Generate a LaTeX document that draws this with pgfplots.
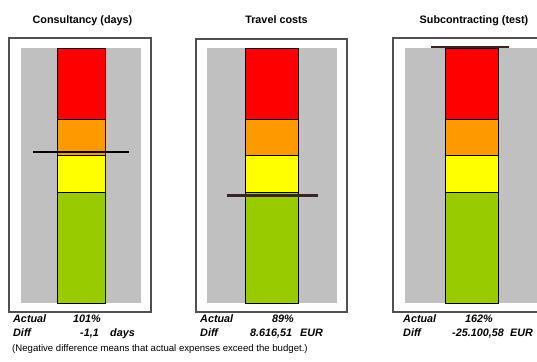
\documentclass[border=0pt]{standalone}
\usepackage{fontspec}
\setmainfont{Liberation Sans}
\usepackage{pgfplots}
\pgfplotsset{compat=1.18}
\definecolor{gbg}{RGB}{192,192,192}
\definecolor{cred}{RGB}{255,0,0}
\definecolor{corange}{RGB}{255,153,0}
\definecolor{cyellow}{RGB}{255,255,0}
\definecolor{cgreen}{RGB}{153,204,0}
\definecolor{cframe}{RGB}{80,80,80}
\definecolor{cmark}{RGB}{60,36,36}
\pgfplotsset{gauge/.style={
  scale only axis, width=#1, height=255pt,
  ymin=59.6, ymax=129.5, clip=false,
  axis line style={draw=none}, xtick=\empty, ytick=\empty,
  axis background/.style={fill=gbg},
  anchor=south west}}
\newcommand{\ttl}{\fontsize{10.8}{12}\selectfont\bfseries}
\newcommand{\bi}{\fontsize{10.8}{12}\selectfont\bfseries\itshape}
\begin{document}
\begin{tikzpicture}[x=1pt,y=1pt]
\useasboundingbox (0,0) rectangle (537,361);
\clip (0,0) rectangle (537,361);
% frames
\draw[cframe, line width=1.2pt] (9,49) rectangle (151,323);
\draw[cframe, line width=1.2pt] (196,49) rectangle (347,322);
\draw[cframe, line width=1.2pt] (393,49) rectangle (548,323);
% panel 1
\begin{axis}[gauge=120pt, at={(21pt,58pt)}, xmin=-60, xmax=60]
\addplot[fill=cgreen, draw=black, line width=0.6pt] coordinates {(-24,59.6) (24,59.6) (24,90) (-24,90)} -- cycle;
\addplot[fill=cyellow, draw=black, line width=0.6pt] coordinates {(-24,90) (24,90) (24,100) (-24,100)} -- cycle;
\addplot[fill=corange, draw=black, line width=0.6pt] coordinates {(-24,100) (24,100) (24,110) (-24,110)} -- cycle;
\addplot[fill=cred, draw=black, line width=0.6pt] coordinates {(-24,110) (24,110) (24,129.5) (-24,129.5)} -- cycle;
\addplot[black, line width=2pt] coordinates {(-48,101) (48,101)};
\end{axis}
% panel 2
\begin{axis}[gauge=130pt, at={(207pt,58pt)}, xmin=-65, xmax=65]
\addplot[fill=cgreen, draw=black, line width=0.6pt] coordinates {(-26.5,59.6) (26.5,59.6) (26.5,90) (-26.5,90)} -- cycle;
\addplot[fill=cyellow, draw=black, line width=0.6pt] coordinates {(-26.5,90) (26.5,90) (26.5,100) (-26.5,100)} -- cycle;
\addplot[fill=corange, draw=black, line width=0.6pt] coordinates {(-26.5,100) (26.5,100) (26.5,110) (-26.5,110)} -- cycle;
\addplot[fill=cred, draw=black, line width=0.6pt] coordinates {(-26.5,110) (26.5,110) (26.5,129.5) (-26.5,129.5)} -- cycle;
\addplot[cmark, line width=2.6pt] coordinates {(-45.5,89) (45.5,89)};
\end{axis}
% panel 3
\begin{axis}[gauge=133pt, at={(405pt,58pt)}, xmin=-66.5, xmax=66.5]
\addplot[fill=cgreen, draw=black, line width=0.6pt] coordinates {(-26.5,59.6) (26.5,59.6) (26.5,90) (-26.5,90)} -- cycle;
\addplot[fill=cyellow, draw=black, line width=0.6pt] coordinates {(-26.5,90) (26.5,90) (26.5,100) (-26.5,100)} -- cycle;
\addplot[fill=corange, draw=black, line width=0.6pt] coordinates {(-26.5,100) (26.5,100) (26.5,110) (-26.5,110)} -- cycle;
\addplot[fill=cred, draw=black, line width=0.6pt] coordinates {(-26.5,110) (26.5,110) (26.5,129.5) (-26.5,129.5)} -- cycle;
\addplot[cmark, line width=2.4pt] coordinates {(-40.5,129.8) (37.5,129.8)};
\end{axis}
% titles
\node[inner sep=0, anchor=base] at (82.5,337) {\ttl Consultancy (days)};
\node[inner sep=0, anchor=base] at (276.5,337) {\ttl Travel costs};
\node[inner sep=0, anchor=base] at (474,337) {\ttl Subcontracting (test)};
% bottom texts
\begin{scope}[every node/.style={inner sep=0, anchor=base west}]
\node at (13,39) {\bi Actual};
\node at (73,39) {\bi 101\%};
\node at (13,25) {\bi Diff};
\node at (80,25) {\bi -1,1};
\node at (110,25) {\bi days};
\node at (200,39) {\bi Actual};
\node at (272,39) {\bi 89\%};
\node at (200,25) {\bi Diff};
\node at (250,25) {\bi 8.616,51};
\node at (300,25) {\bi EUR};
\node at (403,39) {\bi Actual};
\node at (465,39) {\bi 162\%};
\node at (403,25) {\bi Diff};
\node at (452,25) {\bi -25.100,58};
\node at (510,25) {\bi EUR};
\node at (12,10) {\fontsize{9.6}{11}\selectfont (Negative difference means that actual expenses exceed the budget.)};
\end{scope}
\end{tikzpicture}
\end{document}
